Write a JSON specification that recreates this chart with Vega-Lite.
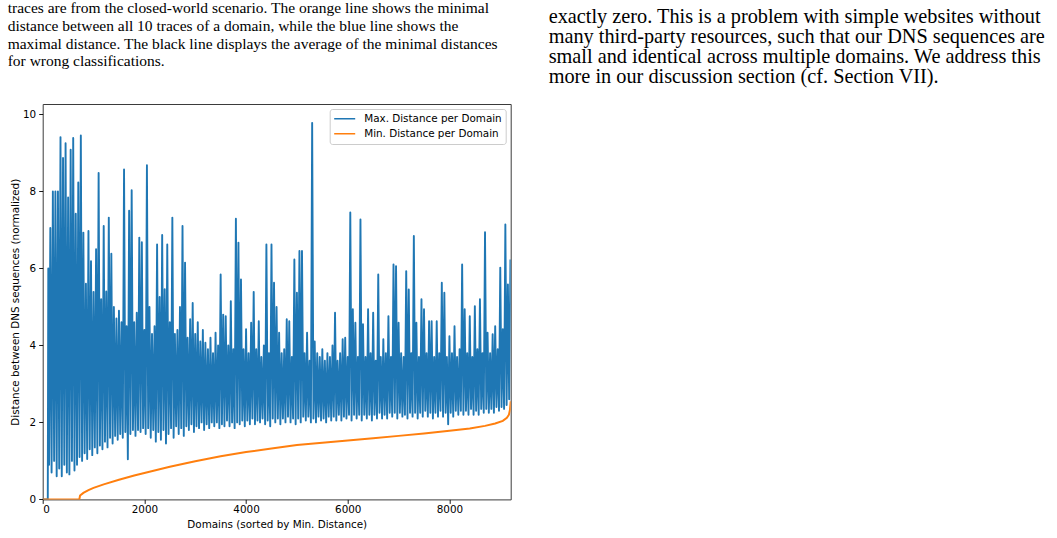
{
  "$schema": "https://vega.github.io/schema/vega-lite/v6.json",
  "padding": {"left": 6.7, "top": 0, "right": 0, "bottom": 0},
  "spacing": 37,
  "background": "white",
  "resolve": {"scale": {"color": "independent"}, "legend": {"color": "independent"}},
  "config": {
    "view": {"stroke": "#3a3a3a", "strokeWidth": 1},
    "font": "DejaVu Sans",
    "axis": {"grid": false, "domain": false, "tickColor": "#000", "tickSize": 4, "tickWidth": 0.9, "labelFont": "DejaVu Sans", "labelFontSize": 10.4, "labelColor": "#000", "titleFont": "DejaVu Sans", "titleFontSize": 10.4, "titleFontWeight": "normal", "titleColor": "#000"},
    "title": {"font": "Liberation Serif", "fontWeight": "normal", "color": "#000", "anchor": "start", "frame": "group"}
  },
  "hconcat": [
    {
      "width": 468,
      "height": 395.4,
      "title": {
        "text": [
          "traces are from the closed-world scenario. The orange line shows the minimal",
          "distance between all 10 traces of a domain, while the blue line shows the",
          "maximal distance. The black line displays the average of the minimal distances",
          "for wrong classifications."
        ],
        "fontSize": 15.5,
        "lineHeight": 17.8,
        "offset": 34,
        "dx": -35
      },
      "encoding": {
        "x": {"field": "d", "type": "quantitative", "scale": {"domain": [0, 9205], "nice": false, "zero": false}, "axis": {"values": [0, 2000, 4000, 6000, 8000], "format": "d", "labelPadding": 1.5, "titlePadding": 4, "title": "Domains (sorted by Min. Distance)"}},
        "y": {"field": "v", "type": "quantitative", "scale": {"domain": [0, 10.27], "nice": false}, "axis": {"values": [0, 2, 4, 6, 8, 10], "labelPadding": 3, "titlePadding": 2, "title": "Distance between DNS sequences (normalized)"}}
      },
      "layer": [
        {
          "data": {"values": [
            {"d":0,"v":0},{"d":100,"v":0},{"d":110,"v":6.0},
            {"d":125,"v":0.9},{"d":150,"v":7.05},{"d":175,"v":0.7},{"d":200,"v":8.0},{"d":225,"v":1.0},{"d":250,"v":8.0},{"d":275,"v":0.6},{"d":300,"v":8.0},
            {"d":325,"v":0.8},{"d":350,"v":9.41},{"d":375,"v":0.6},{"d":400,"v":8.87},{"d":425,"v":0.9},{"d":450,"v":9.25},{"d":475,"v":0.7},{"d":500,"v":7.84},
            {"d":525,"v":0.65},{"d":550,"v":9.08},{"d":575,"v":1.0},{"d":600,"v":9.39},{"d":625,"v":0.75},{"d":650,"v":7.42},{"d":675,"v":0.9},{"d":700,"v":8.23},
            {"d":725,"v":1.1},{"d":750,"v":9.45},{"d":775,"v":1.0},{"d":800,"v":6.93},{"d":825,"v":1.2},{"d":850,"v":5.6},{"d":875,"v":1.05},{"d":900,"v":6.97},
            {"d":925,"v":1.3},{"d":950,"v":6.19},{"d":975,"v":1.15},{"d":1000,"v":5.39},{"d":1025,"v":1.35},{"d":1050,"v":6.5},{"d":1075,"v":1.2},{"d":1100,"v":8.48},
            {"d":1125,"v":1.4},{"d":1150,"v":5.2},{"d":1175,"v":1.3},{"d":1200,"v":7.1},{"d":1225,"v":1.5},{"d":1250,"v":5.4},{"d":1275,"v":1.35},{"d":1300,"v":7.32},
            {"d":1325,"v":1.6},{"d":1350,"v":6.38},{"d":1375,"v":1.45},{"d":1400,"v":5.0},{"d":1425,"v":1.65},{"d":1450,"v":4.7},{"d":1475,"v":1.55},{"d":1500,"v":4.9},
            {"d":1525,"v":1.7},{"d":1550,"v":4.6},{"d":1575,"v":1.6},{"d":1600,"v":8.57},{"d":1625,"v":1.75},{"d":1650,"v":4.5},{"d":1675,"v":1.04},{"d":1700,"v":7.5},
            {"d":1725,"v":1.7},{"d":1750,"v":8.03},{"d":1775,"v":1.8},{"d":1800,"v":4.6},{"d":1825,"v":1.65},{"d":1850,"v":4.85},{"d":1875,"v":1.8},{"d":1900,"v":6.8},
            {"d":1925,"v":1.75},{"d":1950,"v":6.68},{"d":1975,"v":1.85},{"d":2000,"v":4.4},{"d":2025,"v":1.7},{"d":2050,"v":8.68},{"d":2075,"v":1.85},{"d":2100,"v":5.0},
            {"d":2125,"v":1.6},{"d":2150,"v":4.3},{"d":2175,"v":1.8},{"d":2200,"v":4.5},{"d":2225,"v":1.5},{"d":2250,"v":6.62},{"d":2275,"v":1.75},{"d":2300,"v":5.26},
            {"d":2325,"v":1.55},{"d":2350,"v":6.87},{"d":2375,"v":1.8},{"d":2400,"v":5.46},{"d":2425,"v":1.45},{"d":2450,"v":6.62},{"d":2475,"v":1.7},{"d":2500,"v":4.6},
            {"d":2525,"v":1.85},{"d":2550,"v":7.32},{"d":2575,"v":1.6},{"d":2600,"v":4.3},{"d":2625,"v":1.9},{"d":2650,"v":4.4},{"d":2675,"v":1.7},{"d":2700,"v":5.0},
            {"d":2725,"v":1.85},{"d":2750,"v":7.1},{"d":2775,"v":1.65},{"d":2800,"v":6.15},{"d":2825,"v":1.9},{"d":2850,"v":4.2},{"d":2875,"v":1.8},{"d":2900,"v":4.68},
            {"d":2925,"v":1.95},{"d":2950,"v":5.1},{"d":2975,"v":1.75},{"d":3000,"v":4.3},{"d":3025,"v":1.9},{"d":3050,"v":4.6},{"d":3075,"v":1.85},{"d":3100,"v":4.1},
            {"d":3125,"v":2.0},{"d":3150,"v":4.4},{"d":3175,"v":1.8},{"d":3200,"v":4.07},{"d":3225,"v":1.95},{"d":3250,"v":3.9},{"d":3275,"v":1.85},{"d":3300,"v":4.2},
            {"d":3325,"v":2.0},{"d":3350,"v":3.8},{"d":3375,"v":1.9},{"d":3400,"v":4.33},{"d":3425,"v":2.0},{"d":3450,"v":4.0},{"d":3475,"v":1.85},{"d":3500,"v":5.84},
            {"d":3525,"v":1.95},{"d":3550,"v":4.8},{"d":3575,"v":1.9},{"d":3600,"v":4.76},{"d":3625,"v":2.05},{"d":3650,"v":4.0},{"d":3675,"v":1.9},{"d":3700,"v":5.15},
            {"d":3725,"v":2.0},{"d":3750,"v":3.9},{"d":3775,"v":1.85},{"d":3800,"v":7.29},{"d":3825,"v":2.0},{"d":3850,"v":6.67},{"d":3875,"v":1.95},{"d":3900,"v":5.71},
            {"d":3925,"v":2.05},{"d":3950,"v":3.9},{"d":3975,"v":1.9},{"d":4000,"v":4.42},{"d":4025,"v":2.05},{"d":4050,"v":3.8},{"d":4075,"v":1.95},{"d":4100,"v":4.59},
            {"d":4125,"v":2.1},{"d":4150,"v":5.39},{"d":4175,"v":1.95},{"d":4200,"v":3.9},{"d":4225,"v":2.05},{"d":4250,"v":4.63},{"d":4275,"v":2.0},{"d":4300,"v":3.7},
            {"d":4325,"v":2.1},{"d":4350,"v":4.0},{"d":4375,"v":1.95},{"d":4400,"v":6.62},{"d":4425,"v":2.05},{"d":4450,"v":3.8},{"d":4475,"v":1.9},{"d":4500,"v":6.62},
            {"d":4525,"v":2.1},{"d":4550,"v":5.63},{"d":4575,"v":2.0},{"d":4600,"v":5.0},{"d":4625,"v":2.1},{"d":4650,"v":4.33},{"d":4675,"v":1.95},{"d":4700,"v":3.8},
            {"d":4725,"v":2.1},{"d":4750,"v":3.9},{"d":4775,"v":2.0},{"d":4800,"v":4.68},{"d":4825,"v":2.15},{"d":4850,"v":4.63},{"d":4875,"v":2.0},{"d":4900,"v":3.7},
            {"d":4925,"v":2.1},{"d":4950,"v":6.23},{"d":4975,"v":1.95},{"d":5000,"v":5.37},{"d":5025,"v":2.1},{"d":5050,"v":6.45},{"d":5075,"v":2.0},{"d":5100,"v":6.45},
            {"d":5125,"v":2.15},{"d":5150,"v":3.8},{"d":5175,"v":2.05},{"d":5200,"v":4.33},{"d":5225,"v":2.15},{"d":5250,"v":3.6},{"d":5275,"v":2.0},{"d":5300,"v":9.78},
            {"d":5325,"v":2.1},{"d":5350,"v":4.1},{"d":5375,"v":2.0},{"d":5400,"v":3.8},{"d":5425,"v":2.15},{"d":5450,"v":3.7},{"d":5475,"v":2.05},{"d":5500,"v":3.9},
            {"d":5525,"v":2.1},{"d":5550,"v":3.6},{"d":5575,"v":2.0},{"d":5600,"v":3.8},{"d":5625,"v":2.15},{"d":5650,"v":3.7},{"d":5675,"v":2.05},{"d":5700,"v":4.0},
            {"d":5725,"v":2.15},{"d":5750,"v":4.85},{"d":5775,"v":2.05},{"d":5800,"v":3.6},{"d":5825,"v":2.2},{"d":5850,"v":3.8},{"d":5875,"v":2.05},{"d":5900,"v":4.16},
            {"d":5925,"v":2.15},{"d":5950,"v":4.2},{"d":5975,"v":2.1},{"d":6000,"v":3.7},{"d":6025,"v":2.2},{"d":6050,"v":7.45},{"d":6075,"v":2.05},{"d":6100,"v":4.94},
            {"d":6125,"v":2.2},{"d":6150,"v":4.59},{"d":6175,"v":2.1},{"d":6200,"v":3.7},{"d":6225,"v":2.2},{"d":6250,"v":7.27},{"d":6275,"v":2.05},{"d":6300,"v":4.55},
            {"d":6325,"v":2.2},{"d":6350,"v":3.7},{"d":6375,"v":2.1},{"d":6400,"v":4.94},{"d":6425,"v":2.2},{"d":6450,"v":3.8},{"d":6475,"v":2.05},{"d":6500,"v":4.85},
            {"d":6525,"v":2.2},{"d":6550,"v":3.6},{"d":6575,"v":2.1},{"d":6600,"v":5.84},{"d":6625,"v":2.25},{"d":6650,"v":3.7},{"d":6675,"v":2.1},{"d":6700,"v":4.16},
            {"d":6725,"v":2.2},{"d":6750,"v":3.8},{"d":6775,"v":2.1},{"d":6800,"v":4.76},{"d":6825,"v":2.25},{"d":6850,"v":3.7},{"d":6875,"v":2.15},{"d":6900,"v":6.1},
            {"d":6925,"v":2.25},{"d":6950,"v":6.06},{"d":6975,"v":2.1},{"d":7000,"v":4.59},{"d":7025,"v":2.25},{"d":7050,"v":3.8},{"d":7075,"v":2.15},{"d":7100,"v":3.7},
            {"d":7125,"v":2.2},{"d":7150,"v":5.93},{"d":7175,"v":2.1},{"d":7200,"v":5.45},{"d":7225,"v":2.25},{"d":7250,"v":3.8},{"d":7275,"v":2.15},{"d":7300,"v":6.84},
            {"d":7325,"v":2.25},{"d":7350,"v":4.59},{"d":7375,"v":2.1},{"d":7400,"v":3.7},{"d":7425,"v":2.25},{"d":7450,"v":5.2},{"d":7475,"v":2.15},{"d":7500,"v":4.94},
            {"d":7525,"v":2.3},{"d":7550,"v":3.8},{"d":7575,"v":2.15},{"d":7600,"v":4.63},{"d":7625,"v":2.25},{"d":7650,"v":4.63},{"d":7675,"v":2.1},{"d":7700,"v":3.7},
            {"d":7725,"v":2.25},{"d":7750,"v":4.63},{"d":7775,"v":2.15},{"d":7800,"v":3.8},{"d":7825,"v":2.3},{"d":7850,"v":5.63},{"d":7875,"v":2.15},{"d":7900,"v":5.37},
            {"d":7925,"v":2.25},{"d":7950,"v":3.7},{"d":7975,"v":1.95},{"d":8000,"v":4.24},{"d":8025,"v":2.25},{"d":8050,"v":3.8},{"d":8075,"v":2.15},{"d":8100,"v":4.5},
            {"d":8125,"v":2.3},{"d":8150,"v":3.7},{"d":8175,"v":2.2},{"d":8200,"v":3.9},{"d":8225,"v":2.3},{"d":8250,"v":6.1},{"d":8275,"v":2.2},{"d":8300,"v":4.94},
            {"d":8325,"v":2.3},{"d":8350,"v":3.8},{"d":8375,"v":2.2},{"d":8400,"v":4.76},{"d":8425,"v":2.35},{"d":8450,"v":3.7},{"d":8475,"v":2.2},{"d":8500,"v":5.02},
            {"d":8525,"v":2.3},{"d":8550,"v":3.9},{"d":8575,"v":2.2},{"d":8600,"v":5.2},{"d":8625,"v":2.35},{"d":8650,"v":3.8},{"d":8675,"v":2.25},{"d":8700,"v":6.94},
            {"d":8725,"v":2.35},{"d":8750,"v":4.33},{"d":8775,"v":2.25},{"d":8800,"v":3.8},{"d":8825,"v":2.35},{"d":8850,"v":4.29},{"d":8875,"v":2.25},{"d":8900,"v":4.5},
            {"d":8925,"v":2.4},{"d":8950,"v":3.9},{"d":8975,"v":2.3},{"d":9000,"v":6.02},{"d":9025,"v":2.4},{"d":9050,"v":4.42},{"d":9075,"v":2.35},{"d":9100,"v":7.14},
            {"d":9125,"v":2.45},{"d":9150,"v":5.58},{"d":9175,"v":2.6},{"d":9200,"v":6.23}
          ]},
          "mark": {"type": "line", "strokeWidth": 1.9, "strokeJoin": "round", "clip": true},
          "encoding": {
            "color": {"datum": "Max. Distance per Domain", "type": "nominal",
              "scale": {"domain": ["Max. Distance per Domain", "Min. Distance per Domain"], "range": ["#1f77b4", "#ff7f0e"]},
              "legend": {"title": null, "orient": "top-right", "offset": 5, "symbolType": "stroke", "symbolSize": 441, "symbolStrokeWidth": 1.6, "labelFont": "DejaVu Sans", "labelFontSize": 10.4, "labelColor": "#000", "labelOffset": 8, "strokeColor": "#cccccc", "fillColor": "rgba(255,255,255,0.85)", "padding": 3.5, "cornerRadius": 2.5, "rowPadding": 2, "clipHeight": 12.5}}
          }
        },
        {
          "data": {"values": [
            {"d":0,"v":0},{"d":720,"v":0},{"d":735,"v":0.1},{"d":800,"v":0.17},{"d":900,"v":0.24},{"d":1000,"v":0.3},{"d":1200,"v":0.39},{"d":1500,"v":0.51},
            {"d":1800,"v":0.62},{"d":2100,"v":0.72},{"d":2500,"v":0.85},{"d":3000,"v":0.99},{"d":3500,"v":1.12},{"d":4000,"v":1.23},{"d":4500,"v":1.32},
            {"d":5000,"v":1.41},{"d":5500,"v":1.47},{"d":6000,"v":1.53},{"d":6500,"v":1.59},{"d":7000,"v":1.65},{"d":7500,"v":1.71},{"d":8000,"v":1.78},
            {"d":8400,"v":1.84},{"d":8700,"v":1.91},{"d":8900,"v":1.97},{"d":9050,"v":2.04},{"d":9130,"v":2.12},{"d":9170,"v":2.2},{"d":9190,"v":2.32},{"d":9205,"v":2.55}
          ]},
          "mark": {"type": "line", "strokeWidth": 2, "clip": true},
          "encoding": {
            "color": {"datum": "Min. Distance per Domain", "type": "nominal"}
          }
        }
      ]
    },
    {
      "width": 505,
      "height": 1,
      "view": {"stroke": null},
      "title": {
        "text": [
          "exactly zero. This is a problem with simple websites without",
          "many third-party resources, such that our DNS sequences are",
          "small and identical across multiple domains. We address this",
          "more in our discussion section (cf. Section VII)."
        ],
        "orient": "top",
        "fontSize": 20.3,
        "lineHeight": 20,
        "offset": 17
      },
      "data": {"values": []},
      "mark": {"type": "point"},
      "encoding": {}
    }
  ]
}
